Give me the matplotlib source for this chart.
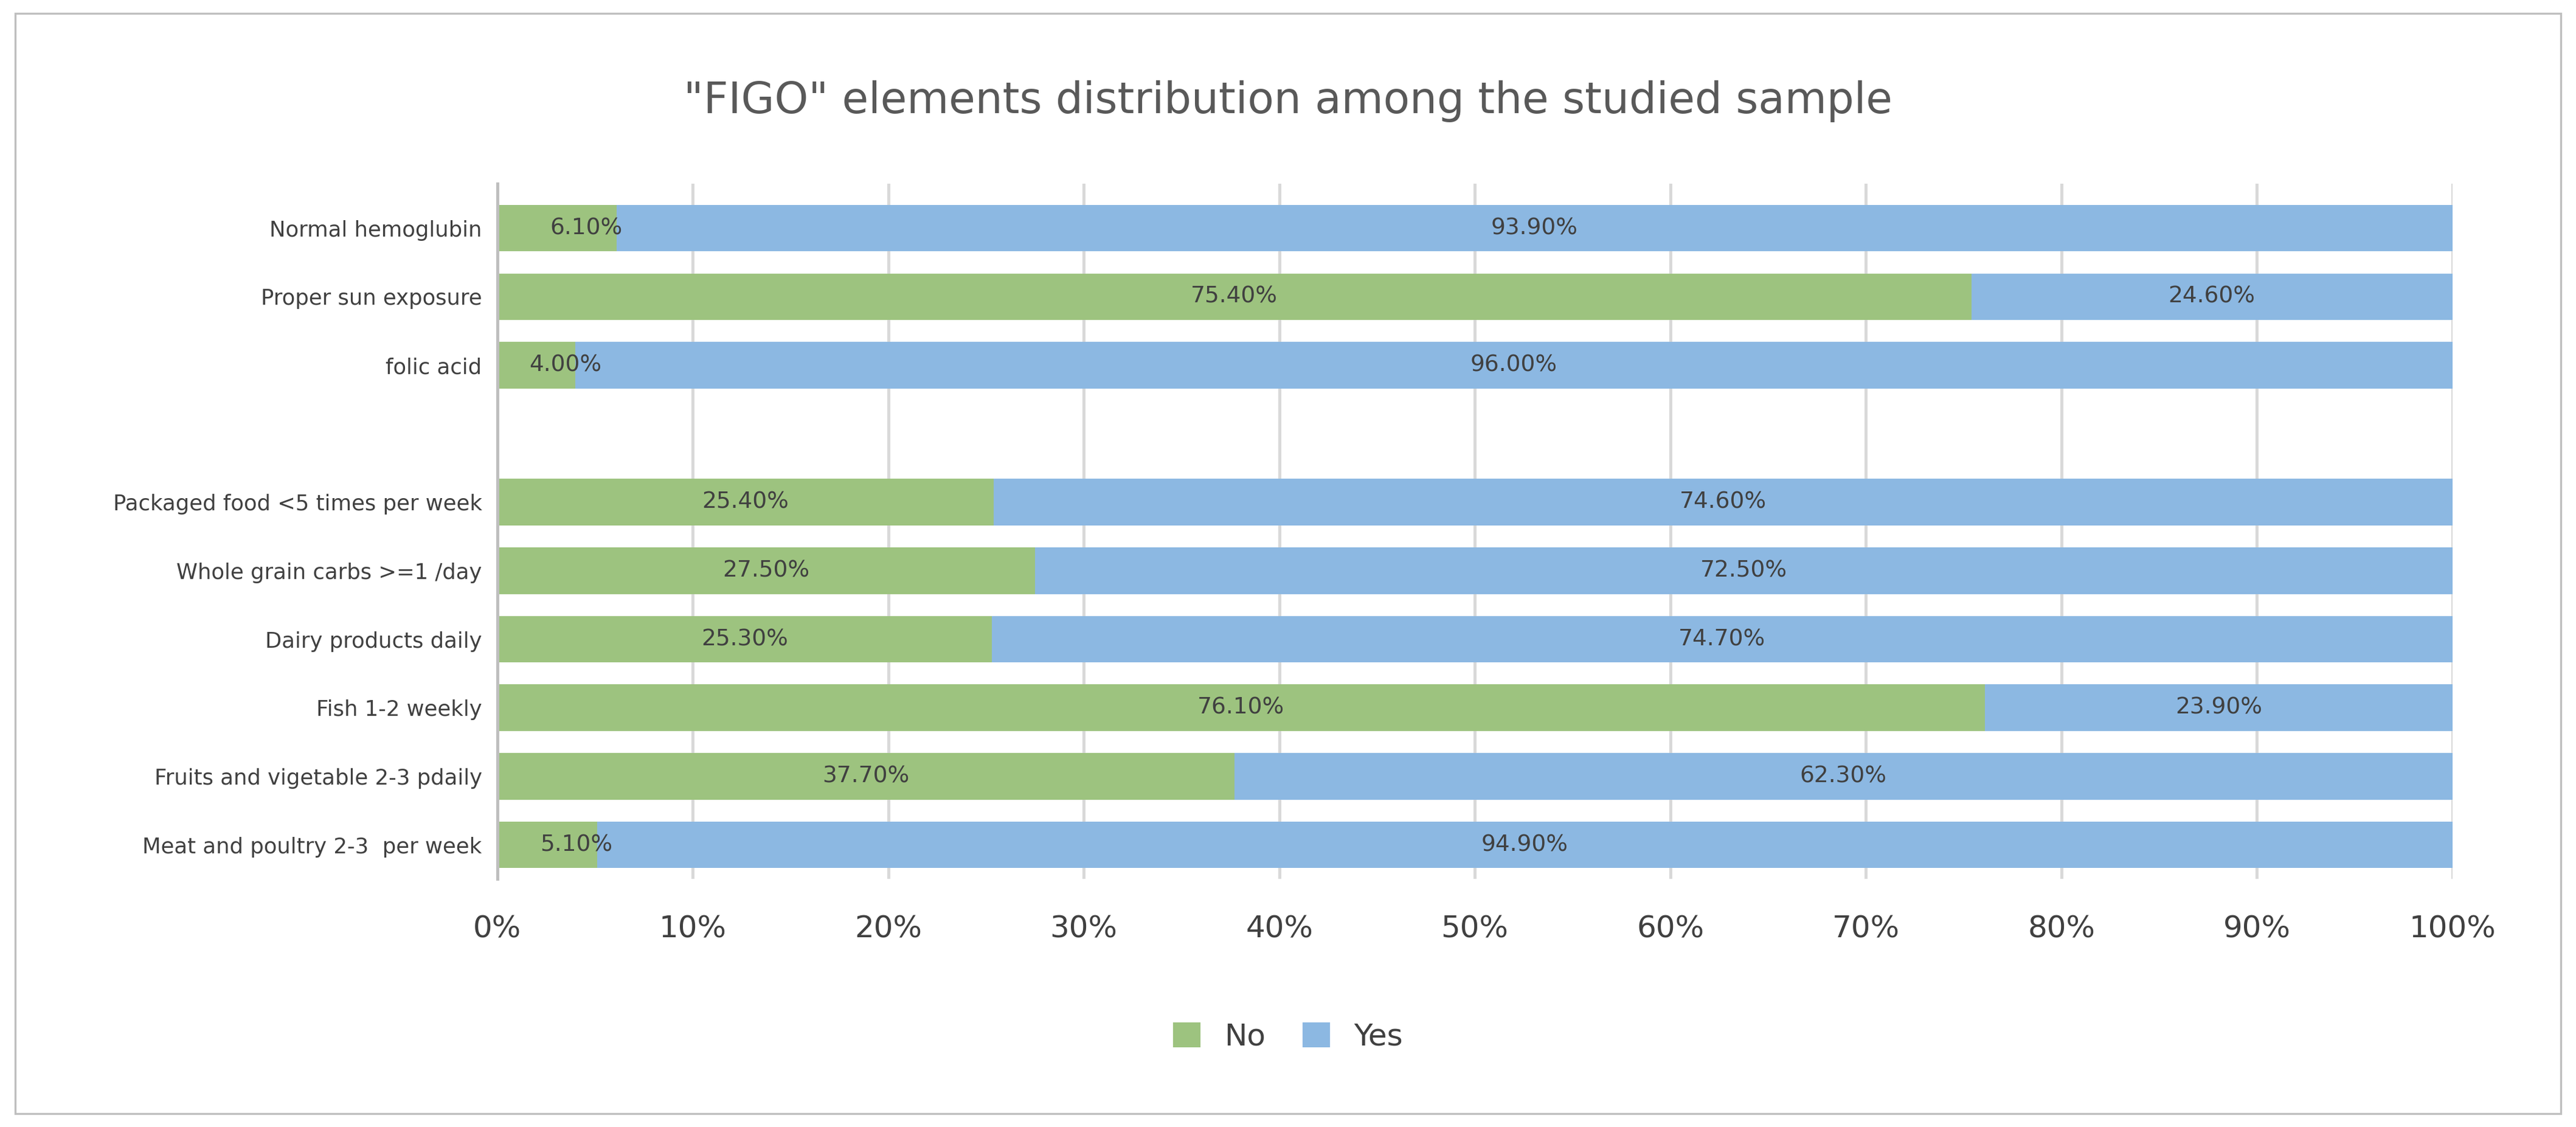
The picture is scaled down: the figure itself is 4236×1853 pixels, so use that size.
import matplotlib
matplotlib.use("Agg")
import matplotlib.pyplot as plt
from matplotlib.patches import Rectangle

categories = ["Normal hemoglubin", "Proper sun exposure", "folic acid", "",
              "Packaged food <5 times per week", "Whole grain carbs >=1 /day",
              "Dairy products daily", "Fish 1-2 weekly",
              "Fruits and vigetable 2-3 pdaily", "Meat and poultry 2-3  per week"]
no_vals = [6.1, 75.4, 4.0, None, 25.4, 27.5, 25.3, 76.1, 37.7, 5.1]
yes_vals = [93.9, 24.6, 96.0, None, 74.6, 72.5, 74.7, 23.9, 62.3, 94.9]
xticks = [0, 10, 20, 30, 40, 50, 60, 70, 80, 90, 100]

green = "#9dc37f"
blue = "#8cb8e2"
tc = "#404040"

fig = plt.figure(figsize=(14.12, 6.177), dpi=300)
fig.patches.append(Rectangle((0.006, 0.012), 0.988, 0.976, transform=fig.transFigure,
                             fill=False, edgecolor="#bfbfbf", linewidth=0.8))
ax = fig.add_axes([0.193, 0.22, 0.759, 0.617])

for i, (c, n, y) in enumerate(zip(categories, no_vals, yes_vals)):
    if n is None:
        continue
    ax.barh(i, n, height=0.68, color=green, label="No" if i == 0 else None)
    ax.barh(i, y, left=n, height=0.68, color=blue, label="Yes" if i == 0 else None)
    ax.text(n / 2 if n > 8 else n / 2 + 1.5, i, f"{n:.2f}%", ha="center", va="center", fontsize=9, color=tc)
    ax.text(n + y / 2, i, f"{y:.2f}%", ha="center", va="center", fontsize=9, color=tc)

ax.set_yticks(range(len(categories)))
ax.set_yticklabels(categories, fontsize=8.5, color=tc)
ax.set_ylim(len(categories) - 0.5, -0.65)
ax.set_xlim(0, 100)
ax.set_xticks(xticks)
ax.set_xticklabels([f"{t}%" for t in xticks], fontsize=12, color=tc)
ax.tick_params(axis="both", length=0, pad=6)
ax.tick_params(axis="x", pad=14)
ax.grid(axis="x", color="#d9d9d9", linewidth=1.2)
ax.set_axisbelow(True)
for s in ["top", "right", "bottom"]:
    ax.spines[s].set_visible(False)
ax.spines["left"].set_color("#bfbfbf")
ax.spines["left"].set_linewidth(1.2)

fig.text(0.5, 0.91, '"FIGO" elements distribution among the studied sample',
         ha="center", va="center", fontsize=17, color="#595959")
fig.legend(loc="center", bbox_to_anchor=(0.5, 0.08), ncol=2, frameon=False,
           fontsize=12, handlelength=0.9, handleheight=0.9, columnspacing=1.2,
           labelcolor=tc)
fig.savefig("out.png", dpi=300)
